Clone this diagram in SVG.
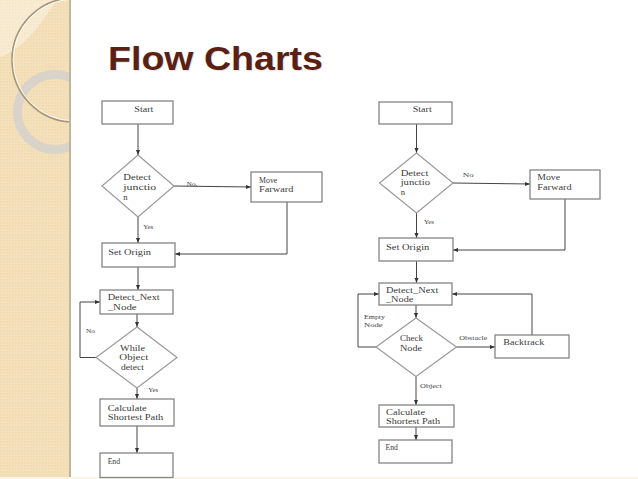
<svg xmlns="http://www.w3.org/2000/svg" width="638" height="479" viewBox="0 0 638 479">
<style>
.box{fill:#fff;stroke:#858585;stroke-width:1.3}
.dia{fill:#fff;stroke:#9a9a9a;stroke-width:1.2}
.t{font-family:"Liberation Serif","Times New Roman",serif;font-size:8.6px;fill:#3a3a3a}
.s{font-family:"Liberation Serif","Times New Roman",serif;font-size:6px;fill:#444}
.c{fill:none;stroke:#444;stroke-width:1;marker-end:url(#ah)}
.title{font-family:"Liberation Sans",Arial,sans-serif;font-weight:bold;font-size:33px}
</style>
<defs>
<marker id="ah" viewBox="0 0 10 10" refX="10" refY="5" markerWidth="5" markerHeight="5" orient="auto"><path d="M0,1 L10,5 L0,9 z" fill="#333"/></marker>
<pattern id="tex" width="3" height="3" patternUnits="userSpaceOnUse"><rect width="3" height="3" fill="#f4e1bb"/><rect width="1.5" height="1.5" fill="#efd9ae"/></pattern>
<clipPath id="pc"><rect x="0" y="0" width="70" height="479"/></clipPath>
</defs>
<rect width="638" height="479" fill="#fff"/>
<g id="side-panel">
<rect x="0" y="0" width="70" height="479" fill="url(#tex)"/>
<g clip-path="url(#pc)">
<path d="M0,0 L57,0 C40,25 25,48 0,57 Z" fill="#fff" opacity="0.35"/>
<circle cx="55" cy="112" r="37.5" fill="none" stroke="#d6d2cb" stroke-width="9" opacity="0.9"/>
<circle cx="74" cy="60" r="62" fill="none" stroke="#a5967c" stroke-width="1.6"/>
<circle cx="74" cy="60" r="60.8" fill="none" stroke="#fff" stroke-width="0.9" opacity="0.85"/>
</g>
<rect x="69" y="0" width="2" height="479" fill="#c2b497"/>
<rect x="0" y="477" width="638" height="2" fill="#fbf5e6"/>
</g>
<g id="title">
<text x="109" y="71" class="title" fill="#000" opacity="0.1" textLength="215" lengthAdjust="spacingAndGlyphs">Flow Charts</text>
<text x="108" y="70" class="title" fill="#5c1f14" textLength="215" lengthAdjust="spacingAndGlyphs">Flow Charts</text>
</g>
<g id="connectors">
<line class="c" x1="138" y1="124" x2="138" y2="155"/>
<line class="c" x1="174" y1="186" x2="251" y2="187"/>
<polyline class="c" points="287,202 287,254 175,254"/>
<line class="c" x1="138" y1="217" x2="138" y2="243"/>
<line class="c" x1="138" y1="267" x2="138" y2="290"/>
<line class="c" x1="137" y1="314" x2="137" y2="327"/>
<polyline class="c" points="96,357.5 80,357.5 80,302 100,302"/>
<line class="c" x1="137" y1="388" x2="137" y2="399"/>
<line class="c" x1="137" y1="426" x2="137" y2="453"/>
<line class="c" x1="416.5" y1="124" x2="416.5" y2="153"/>
<line class="c" x1="453" y1="183" x2="530" y2="184"/>
<polyline class="c" points="565,199 565,250 453,250"/>
<line class="c" x1="416.5" y1="213" x2="416.5" y2="238"/>
<line class="c" x1="416.5" y1="261" x2="416.5" y2="283"/>
<line class="c" x1="416" y1="305" x2="416" y2="318"/>
<polyline class="c" points="376,347 358,347 358,294 379,294"/>
<line class="c" x1="456.5" y1="347" x2="495" y2="347"/>
<polyline class="c" points="532,335 532,294 452,294"/>
<line class="c" x1="416" y1="376.5" x2="416" y2="405"/>
<line class="c" x1="416" y1="427" x2="416" y2="440"/>
<text class="s" x="186.7" y="185.5" textLength="10.6" lengthAdjust="spacingAndGlyphs">No.</text>
<text class="s" x="143.3" y="229.3" textLength="10" lengthAdjust="spacingAndGlyphs">Yes</text>
<text class="s" x="86" y="332.7" textLength="9" lengthAdjust="spacingAndGlyphs">No</text>
<text class="s" x="148.3" y="391.7" textLength="10" lengthAdjust="spacingAndGlyphs">Yes</text>
<text class="s" x="462.7" y="177.3" textLength="11" lengthAdjust="spacingAndGlyphs">No</text>
<text class="s" x="424" y="224.3" textLength="10" lengthAdjust="spacingAndGlyphs">Yes</text>
<text class="s" x="364" y="319" textLength="21" lengthAdjust="spacingAndGlyphs">Empty</text>
<text class="s" x="364" y="326.7" textLength="18.7" lengthAdjust="spacingAndGlyphs">Node</text>
<text class="s" x="459.3" y="340" textLength="28" lengthAdjust="spacingAndGlyphs">Obstacle</text>
<text class="s" x="420" y="387.7" textLength="21.7" lengthAdjust="spacingAndGlyphs">Object</text>
</g>
<g id="L-start"><rect class="box" x="102" y="101" width="71" height="23"/><text class="t" x="134.3" y="112" textLength="19" lengthAdjust="spacingAndGlyphs">Start</text></g>
<g id="L-detect-junction"><polygon class="dia" points="138,155 174,186 138,217 102,186"/>
<text class="t" x="123.3" y="180" textLength="27.7" lengthAdjust="spacingAndGlyphs">Detect</text>
<text class="t" x="123.3" y="190" textLength="33" lengthAdjust="spacingAndGlyphs">junctio</text>
<text class="t" x="123.3" y="200">n</text></g>
<g id="L-move-forward"><rect class="box" x="251" y="172" width="71" height="30"/>
<text class="t" x="259" y="182.7" textLength="18.3" lengthAdjust="spacingAndGlyphs">Move</text>
<text class="t" x="259" y="192.3" textLength="34.3" lengthAdjust="spacingAndGlyphs">Farward</text></g>
<g id="L-set-origin"><rect class="box" x="102" y="243" width="73" height="24"/><text class="t" x="108.3" y="255" textLength="42.7" lengthAdjust="spacingAndGlyphs">Set Origin</text></g>
<g id="L-detect-next"><rect class="box" x="100" y="290" width="73" height="24"/>
<text class="t" x="107.7" y="300" textLength="52" lengthAdjust="spacingAndGlyphs">Detect_Next</text>
<text class="t" x="107.7" y="310" textLength="29" lengthAdjust="spacingAndGlyphs">_Node</text></g>
<g id="L-while-object"><polygon class="dia" points="137,327 177,357.5 137,388 96,357.5"/>
<text class="t" x="120" y="351" textLength="25" lengthAdjust="spacingAndGlyphs">While</text>
<text class="t" x="119.3" y="360.2" textLength="29" lengthAdjust="spacingAndGlyphs">Object</text>
<text class="t" x="121" y="369.5" textLength="23" lengthAdjust="spacingAndGlyphs">detect</text></g>
<g id="L-calculate"><rect class="box" x="100" y="399" width="74" height="27"/>
<text class="t" x="107.7" y="410.5" textLength="39" lengthAdjust="spacingAndGlyphs">Calculate</text>
<text class="t" x="107.7" y="420" textLength="55.7" lengthAdjust="spacingAndGlyphs">Shortest Path</text></g>
<g id="L-end"><rect class="box" x="100" y="453" width="73" height="24.5"/><text class="t" x="107.7" y="464" textLength="12.3" lengthAdjust="spacingAndGlyphs">End</text></g>
<g id="R-start"><rect class="box" x="379" y="102" width="73" height="22"/><text class="t" x="412.7" y="111.7" textLength="19" lengthAdjust="spacingAndGlyphs">Start</text></g>
<g id="R-detect-junction"><polygon class="dia" points="416.5,153 453,183 416.5,213 379.5,183"/>
<text class="t" x="400.7" y="176" textLength="27.7" lengthAdjust="spacingAndGlyphs">Detect</text>
<text class="t" x="400.7" y="185.3" textLength="29.3" lengthAdjust="spacingAndGlyphs">junctio</text>
<text class="t" x="400.7" y="194.6">n</text></g>
<g id="R-move-forward"><rect class="box" x="530" y="170" width="70" height="29"/>
<text class="t" x="537.3" y="180" textLength="22.7" lengthAdjust="spacingAndGlyphs">Move</text>
<text class="t" x="537.3" y="190" textLength="34.3" lengthAdjust="spacingAndGlyphs">Farward</text></g>
<g id="R-set-origin"><rect class="box" x="379" y="238" width="74" height="23"/><text class="t" x="386" y="250" textLength="43.3" lengthAdjust="spacingAndGlyphs">Set Origin</text></g>
<g id="R-detect-next"><rect class="box" x="379" y="283" width="73" height="22"/>
<text class="t" x="386" y="292.5" textLength="52.3" lengthAdjust="spacingAndGlyphs">Detect_Next</text>
<text class="t" x="386" y="301.9" textLength="27.3" lengthAdjust="spacingAndGlyphs">_Node</text></g>
<g id="R-check-node"><polygon class="dia" points="416,318 456.5,347 416,376.5 376,347"/>
<text class="t" x="400" y="340.7" textLength="23" lengthAdjust="spacingAndGlyphs">Check</text>
<text class="t" x="400" y="350.7" textLength="22" lengthAdjust="spacingAndGlyphs">Node</text></g>
<g id="R-backtrack"><rect class="box" x="495" y="335" width="74" height="23"/><text class="t" x="503.3" y="345" textLength="41" lengthAdjust="spacingAndGlyphs">Backtrack</text></g>
<g id="R-calculate"><rect class="box" x="379" y="405" width="75" height="22"/>
<text class="t" x="386" y="414.8" textLength="39" lengthAdjust="spacingAndGlyphs">Calculate</text>
<text class="t" x="386" y="424.2" textLength="54" lengthAdjust="spacingAndGlyphs">Shortest Path</text></g>
<g id="R-end"><rect class="box" x="379" y="440" width="73" height="23"/><text class="t" x="385.5" y="450" textLength="12.3" lengthAdjust="spacingAndGlyphs">End</text></g>
</svg>
